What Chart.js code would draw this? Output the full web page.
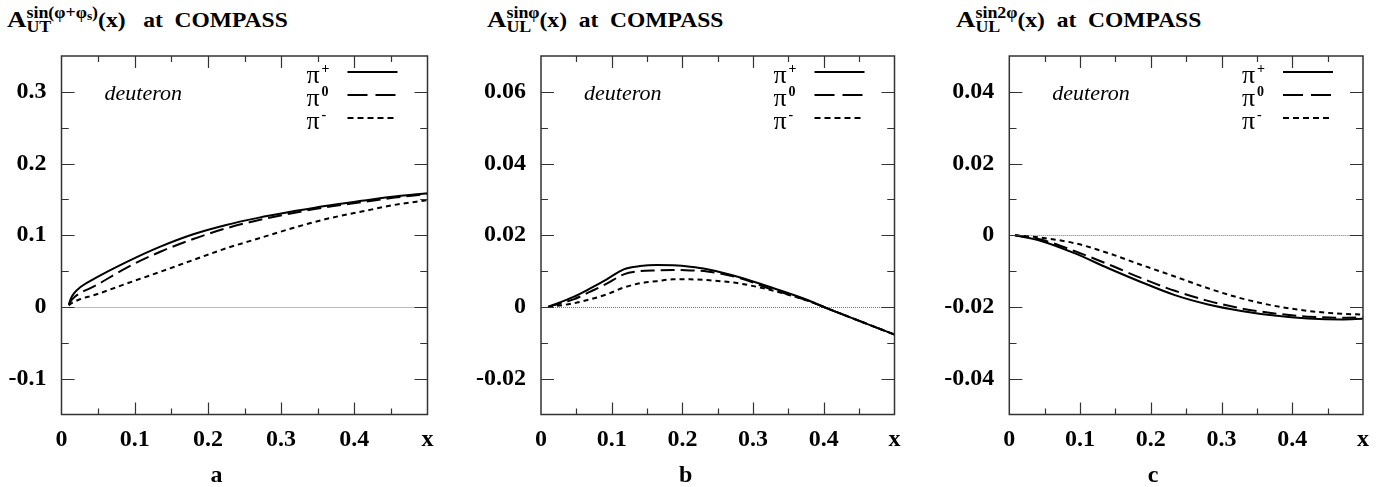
<!DOCTYPE html>
<html>
<head>
<meta charset="utf-8">
<script src="https://cdn.jsdelivr.net/npm/chart.js@4.4.1/dist/chart.umd.min.js"></script>
<style>
body { margin: 0; background: #fff; width: 1388px; height: 487px; position: relative; overflow: hidden;
       font-family: "Liberation Serif", "DejaVu Serif", "Times New Roman", serif; }
canvas { position: absolute; top: 0; }
.ttl { position: absolute; top: 6px; font-weight: bold; font-size: 21px; white-space: nowrap;
       transform: scaleX(1.12); transform-origin: 0 0; color: #000; }
.ttl .big { font-size: 24px; }
.ss { display: inline-block; vertical-align: -5px; line-height: 14px; font-size: 16px; }
.ss span { display: block; }
.ss sub { font-size: 12px; vertical-align: -2px; line-height: 0; }
</style>
</head>
<body>

<div class="ttl" style="left:7px"><span class="big">A</span><span class="ss"><span>sin(&#966;+&#966;<sub>s</sub>)</span><span>UT</span></span>(x)&nbsp;&nbsp; at&nbsp; COMPASS</div>
<div class="ttl" style="left:487px"><span class="big">A</span><span class="ss"><span>sin&#966;</span><span>UL</span></span>(x)&nbsp; at&nbsp; COMPASS</div>
<div class="ttl" style="left:956px"><span class="big">A</span><span class="ss"><span>sin2&#966;</span><span>UL</span></span>(x)&nbsp; at&nbsp; COMPASS</div>

<canvas id="chartA" width="463" height="487" style="left:0px"></canvas>
<canvas id="chartB" width="463" height="487" style="left:463px"></canvas>
<canvas id="chartC" width="462" height="487" style="left:926px"></canvas>

<script>
// values
var serif = '"Liberation Serif", "DejaVu Serif", "Times New Roman", serif';

var xTicks = [0, 0.1, 0.2, 0.3, 0.4, 0.5];
var xTickLabels = ['0', '0.1', '0.2', '0.3', '0.4', 'x'];

var yTicksA = [-0.1, 0, 0.1, 0.2, 0.3];
var yTickLabelsA = ['-0.1', '0', '0.1', '0.2', '0.3'];
var yTicksB = [-0.02, 0, 0.02, 0.04, 0.06];
var yTickLabelsB = ['-0.02', '0', '0.02', '0.04', '0.06'];
var yTicksC = [-0.04, -0.02, 0, 0.02, 0.04];
var yTickLabelsC = ['-0.04', '-0.02', '0', '0.02', '0.04'];

var seriesNames = ['π+', 'π0', 'π-'];
var seriesSup = ['+', '0', '-'];

// panel a : A_UT^{sin(phi+phi_s)}
var xA = [0.01, 0.0125, 0.017, 0.025, 0.045, 0.09, 0.135, 0.18, 0.225, 0.27, 0.315, 0.36, 0.41, 0.455, 0.5];
var aPiPlus = [0.003, 0.011, 0.019, 0.027, 0.0395, 0.0632, 0.0841, 0.1014, 0.1144, 0.1246, 0.133, 0.1409, 0.148, 0.154, 0.1586];
var aPiZero = [0.003, 0.008, 0.013, 0.019, 0.029, 0.0553, 0.077, 0.0948, 0.1097, 0.1213, 0.1307, 0.139, 0.146, 0.1525, 0.1576];
var aPiMinus = [0.002, 0.0045, 0.007, 0.0107, 0.0167, 0.033, 0.049, 0.0655, 0.0818, 0.0958, 0.1097, 0.1223, 0.133, 0.1423, 0.149];

// panel b : A_UL^{sin phi}
var xB = [0.01, 0.046, 0.069, 0.093, 0.117, 0.14, 0.164, 0.187, 0.211, 0.235, 0.282, 0.329, 0.376, 0.4, 0.423, 0.47, 0.5];
var bPiPlus = [0, 0.0028, 0.0051, 0.0077, 0.0105, 0.0114, 0.0117, 0.0116, 0.0112, 0.0105, 0.0082, 0.0052, 0.002, 0, -0.0018, -0.0054, -0.0077];
var bPiZero = [0, 0.0021, 0.0042, 0.0065, 0.0091, 0.0100, 0.0102, 0.0103, 0.0102, 0.0099, 0.0080, 0.0047, 0.0019, 0, -0.0018, -0.0054, -0.0077];
var bPiMinus = [0, 0.0010, 0.0021, 0.0035, 0.0054, 0.0066, 0.0072, 0.0077, 0.0077, 0.0075, 0.0065, 0.0045, 0.0018, 0, -0.0018, -0.0054, -0.0077];

// panel c : A_UL^{sin 2phi}
var xC = [0.008, 0.045, 0.092, 0.14, 0.187, 0.234, 0.281, 0.328, 0.375, 0.422, 0.469, 0.5];
var cPiPlus = [0, -0.0016, -0.005, -0.0092, -0.0131, -0.0167, -0.0193, -0.0211, -0.0224, -0.0232, -0.0235, -0.0233];
var cPiZero = [0, -0.0012, -0.0044, -0.0081, -0.012, -0.0155, -0.0183, -0.0204, -0.0218, -0.0227, -0.023, -0.0229];
var cPiMinus = [0, -0.0007, -0.0022, -0.005, -0.0083, -0.0115, -0.0148, -0.0176, -0.0197, -0.0211, -0.0219, -0.0221];

var dashes = [[], [14, 6], [5, 4]];
var legendDashes = [[], [20, 8], [6, 4]];

function toPoints(xs, ys) {
    var pts = [];
    for (var i = 0; i <= xs.length - 1; i++) {
        pts.push({ x: xs[i], y: ys[i] });
    }
    return pts;
}

// frame, inward ticks, zero line, legend and labels
var framePlugin = {
    id: 'frame',
    beforeDatasetsDraw: function (chart) {
        var ctx = chart.ctx, a = chart.chartArea, ys = chart.scales.y;
        var y0 = ys.getPixelForValue(0);
        ctx.save();
        ctx.strokeStyle = '#777';
        ctx.lineWidth = 1;
        ctx.setLineDash([1, 1]);
        ctx.beginPath();
        ctx.moveTo(a.left, Math.round(y0) + 0.5);
        ctx.lineTo(a.right, Math.round(y0) + 0.5);
        ctx.stroke();
        ctx.restore();
    },
    afterDraw: function (chart) {
        var ctx = chart.ctx, a = chart.chartArea;
        var xs = chart.scales.x, ys = chart.scales.y;
        var o = chart.options.plugins.frame;
        ctx.save();
        ctx.strokeStyle = '#333';
        ctx.lineWidth = 1.5;
        ctx.strokeRect(a.left, a.top, a.right - a.left, a.bottom - a.top);

        // x ticks, major and half-step minor
        ctx.lineWidth = 1.2;
        for (var i = 0; i < xTicks.length; i++) {
            var v = xTicks[i];
            var list = [[v, 12]];
            if (i < xTicks.length - 1) list.push([(v + xTicks[i + 1]) / 2, 6]);
            list.forEach(function (t) {
                if (t[0] <= xs.min || t[0] >= xs.max) return;
                var px = Math.round(xs.getPixelForValue(t[0])) + 0.5;
                ctx.beginPath();
                ctx.moveTo(px, a.bottom); ctx.lineTo(px, a.bottom - t[1]);
                ctx.moveTo(px, a.top); ctx.lineTo(px, a.top + t[1]);
                ctx.stroke();
            });
        }
        // y ticks
        var yt = o.yTicks;
        var yl = [];
        for (var j = 0; j < yt.length; j++) {
            yl.push([yt[j], 13]);
            yl.push([yt[j] - (yt[1] - yt[0]) / 2, 7]);
            yl.push([yt[j] + (yt[1] - yt[0]) / 2, 7]);
        }
        yl.forEach(function (t) {
            if (t[0] <= ys.min + 1e-9 || t[0] >= ys.max - 1e-9) return;
            var py = Math.round(ys.getPixelForValue(t[0])) + 0.5;
            ctx.beginPath();
            ctx.moveTo(a.left, py); ctx.lineTo(a.left + t[1], py);
            ctx.moveTo(a.right, py); ctx.lineTo(a.right - t[1], py);
            ctx.stroke();
        });

        // "deuteron"
        ctx.fillStyle = '#000';
        ctx.font = 'italic 22px ' + serif;
        ctx.textBaseline = 'alphabetic';
        ctx.textAlign = 'left';
        ctx.fillText('deuteron', a.left + 43, 100);

        // legend: label first, then line sample
        var rowsY = [72, 95, 118];
        chart.data.datasets.forEach(function (ds, k) {
            var ly = rowsY[k];
            ctx.fillStyle = '#000';
            ctx.font = '26px ' + serif;
            ctx.fillText('π', a.right - 121, ly + 11);
            ctx.font = 'bold 14px ' + serif;
            ctx.fillText(seriesSup[k], a.right - 106, ly + 1);
            ctx.strokeStyle = '#000';
            ctx.lineWidth = 2;
            ctx.setLineDash(legendDashes[k]);
            ctx.beginPath();
            ctx.moveTo(a.right - 80, ly);
            ctx.lineTo(a.right - 30, ly);
            ctx.stroke();
        });
        ctx.setLineDash([]);

        // panel letter
        ctx.font = 'bold 24px ' + serif;
        ctx.textAlign = 'center';
        ctx.fillText(o.letter, (a.left + a.right) / 2 + o.letterShift, 482);
        ctx.restore();
    }
};

function makeChart(id, cfg) {
    var datasets = [];
    for (var k = 0; k < 3; k++) {
        datasets.push({
            label: seriesNames[k],
            data: toPoints(cfg.x, cfg.series[k]),
            borderColor: '#000',
            borderWidth: 2,
            borderDash: dashes[k],
            pointRadius: 0,
            fill: false,
            cubicInterpolationMode: 'monotone'
        });
    }
    var tickFont = { family: serif, size: 24, weight: 'bold', lineHeight: 1 };
    return new Chart(document.getElementById(id), {
        type: 'line',
        data: { datasets: datasets },
        options: {
            responsive: false,
            animation: false,
            layout: { padding: { left: 0, top: 56, right: cfg.padRight, bottom: 0 } },
            plugins: {
                legend: { display: false },
                tooltip: { enabled: false },
                frame: { yTicks: cfg.yTicks, letter: cfg.letter, letterShift: cfg.letterShift }
            },
            scales: {
                x: {
                    type: 'linear', min: 0, max: 0.5,
                    grid: { display: false, drawTicks: false },
                    border: { display: false },
                    afterBuildTicks: function (s) { s.ticks = xTicks.map(function (v) { return { value: v }; }); },
                    afterFit: function (s) { s.height = 72.5; },
                    ticks: {
                        font: tickFont, color: '#000', padding: 13, maxRotation: 0, autoSkip: false,
                        callback: function (v, i) { return xTickLabels[i]; }
                    }
                },
                y: {
                    type: 'linear', min: cfg.yMin, max: cfg.yMax,
                    grid: { display: false, drawTicks: false },
                    border: { display: false },
                    afterBuildTicks: function (s) { s.ticks = cfg.yTicks.map(function (v) { return { value: v }; }); },
                    afterFit: function (s) { s.width = cfg.plotLeft; },
                    ticks: {
                        font: tickFont, color: '#000', padding: 15, autoSkip: false,
                        callback: function (v, i) { return cfg.yLabels[i]; }
                    }
                }
            }
        },
        plugins: [framePlugin]
    });
}

makeChart('chartA', {
    x: xA, series: [aPiPlus, aPiZero, aPiMinus],
    yMin: -0.15, yMax: 0.35, yTicks: yTicksA, yLabels: yTickLabelsA,
    plotLeft: 61.5, padRight: 35.5, letter: 'a', letterShift: -28
});
makeChart('chartB', {
    x: xB, series: [bPiPlus, bPiZero, bPiMinus],
    yMin: -0.03, yMax: 0.07, yTicks: yTicksB, yLabels: yTickLabelsB,
    plotLeft: 78, padRight: 31.5, letter: 'b', letterShift: -32
});
makeChart('chartC', {
    x: xC, series: [cPiPlus, cPiZero, cPiMinus],
    yMin: -0.05, yMax: 0.05, yTicks: yTicksC, yLabels: yTickLabelsC,
    plotLeft: 83.3, padRight: 25, letter: 'c', letterShift: -33
});
</script>
</body>
</html>
